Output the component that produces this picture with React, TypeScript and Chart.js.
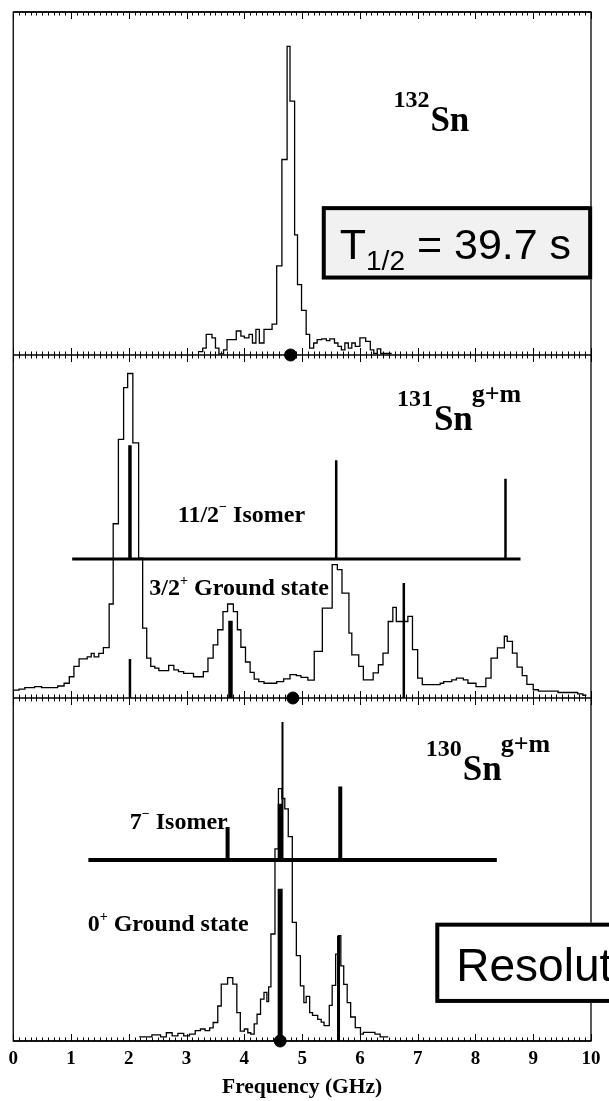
import React, { useEffect, useRef } from 'react';
import { Chart, registerables } from 'chart.js';

Chart.register(...registerables);

// ---------------- x axis ----------------
const xTickValues = [0, 1, 2, 3, 4, 5, 6, 7, 8, 9, 10];
const xTickLabels = ['0', '1', '2', '3', '4', '5', '6', '7', '8', '9', '10'];
const xAxisTitle = 'Frequency (GHz)';

// ---------------- Panel 1 : 132Sn (bin start edges + final edge, counts) ----------------
const sn132Edges = [3.20, 3.28, 3.34, 3.44, 3.50, 3.56, 3.64, 3.70, 3.78, 3.86, 3.94, 4.00, 4.08, 4.14, 4.20, 4.26, 4.34, 4.48, 4.56, 4.65, 4.74, 4.79, 4.87, 4.92, 4.99, 5.07, 5.13, 5.20, 5.26, 5.34, 5.42, 5.48, 5.56, 5.62, 5.68, 5.74, 5.80, 5.86, 5.92, 6.00, 6.10, 6.18, 6.24, 6.30, 6.36, 6.46, 6.55];
const sn132Counts = [1.0, 2.0, 6.0, 5.0, 2.0, 0.3, 1.5, 4.5, 4.5, 7.0, 5.5, 5.0, 6.0, 3.5, 7.5, 3.5, 7.5, 9.0, 26, 57, 90, 74, 35, 20.5, 13, 6, 2, 3.5, 4.5, 4.7, 4.2, 4.7, 3.5, 2.5, 1.5, 3.5, 2, 3.5, 2.5, 5, 4, 1.5, 0.5, 1.8, 0.5, 0.5];

// ---------------- Panel 2 : 131Sn g+m ----------------
const sn131Edges = [0.00, 0.10, 0.20, 0.37, 0.49, 0.77, 0.88, 0.97, 1.05, 1.14, 1.28, 1.35, 1.40, 1.48, 1.56, 1.66, 1.73, 1.82, 1.91, 1.98, 2.07, 2.17, 2.24, 2.31, 2.38, 2.45, 2.52, 2.61, 2.69, 2.78, 2.86, 2.95, 3.03, 3.12, 3.29, 3.37, 3.46, 3.54, 3.63, 3.71, 3.81, 3.88, 3.94, 4.02, 4.10, 4.17, 4.25, 4.34, 4.56, 4.68, 4.79, 4.90, 4.98, 5.10, 5.21, 5.35, 5.52, 5.61, 5.69, 5.81, 5.86, 5.98, 6.06, 6.23, 6.32, 6.40, 6.49, 6.57, 6.63, 6.83, 6.91, 7.00, 7.08, 7.39, 7.45, 7.59, 7.67, 7.79, 7.87, 8.01, 8.18, 8.27, 8.38, 8.50, 8.55, 8.64, 8.72, 8.81, 8.89, 9.00, 9.09, 9.43, 9.77, 9.86, 9.92];
const sn131Counts = [2.3, 2.6, 3.0, 3.3, 3.0, 3.5, 4.3, 6.2, 9.2, 11.4, 12.0, 13.0, 12.0, 13.0, 14.7, 27.4, 50.8, 75.4, 90.5, 94.6, 74.4, 40.8, 20.4, 11.6, 9.2, 8.7, 8.0, 8.0, 9.5, 8.2, 7.7, 7.2, 7.2, 6.2, 7.7, 11.6, 15.5, 19.9, 25.2, 27.4, 25.2, 19.9, 14.8, 10.5, 7.5, 5.5, 4.8, 4.3, 4.8, 5.6, 6.8, 6.5, 6.0, 5.2, 13.6, 26.2, 38.9, 37.4, 30.6, 18.9, 12.6, 9.2, 5.3, 7.3, 9.7, 13.1, 22.3, 26.4, 22.3, 23.8, 14.1, 5.8, 3.9, 4.3, 4.8, 5.3, 5.8, 5.3, 4.3, 3.3, 5.8, 11.6, 14.6, 18.0, 16.5, 13.1, 9.0, 6.5, 4.0, 2.4, 2.0, 1.6, 1.2, 0.8];
const sn131IsomerLevel = 40.5;
const sn131IsomerSpan = [1.02, 8.78];
const sn131IsomerFreq = [2.02, 5.59, 8.52];
const sn131IsomerTop = [73.7, 69.3, 63.9];
const sn131GroundFreq = [2.02, 3.76, 6.76];
const sn131GroundTop = [11.4, 22.5, 33.5];

// ---------------- Panel 3 : 130Sn g+m ----------------
const sn130Edges = [2.18, 2.40, 2.55, 2.65, 2.75, 2.85, 2.95, 3.05, 3.15, 3.24, 3.32, 3.40, 3.46, 3.54, 3.60, 3.71, 3.80, 3.87, 3.93, 4.00, 4.06, 4.11, 4.17, 4.22, 4.28, 4.34, 4.39, 4.42, 4.46, 4.53, 4.59, 4.65, 4.70, 4.76, 4.83, 4.90, 4.97, 5.03, 5.07, 5.13, 5.18, 5.27, 5.33, 5.38, 5.47, 5.52, 5.58, 5.63, 5.67, 5.72, 5.78, 5.84, 5.92, 6.01, 6.06, 6.26, 6.35, 6.49];
const sn130Counts = [1.2, 1.8, 1.2, 2.4, 1.5, 2.2, 1.5, 2.0, 3.0, 3.5, 3.0, 3.8, 5.4, 10.2, 16.6, 18.5, 16.6, 8.3, 2.9, 3.5, 2.4, 2.0, 5.0, 7.8, 12.2, 14.2, 11.5, 15.8, 31.2, 56.0, 73.6, 70.7, 67.7, 59.6, 34.6, 24.9, 16.1, 11.2, 13.0, 8.3, 7.5, 6.3, 5.5, 4.5, 10.4, 16.2, 25.3, 30.7, 21.9, 16.5, 11.2, 7.0, 3.9, 2.0, 2.5, 2.0, 1.2];
const sn130IsomerLevel = 52.8;
const sn130IsomerSpan = [1.30, 8.37];
const sn130IsomerFreq = [3.71, 4.62, 4.66, 5.66];
const sn130IsomerTop = [62.4, 69.2, 93.0, 74.2];
const sn130GroundFreq = [4.62, 5.63];
const sn130GroundTop = [44.4, 30.7];

// centroid markers on each panel's axis
const centroidFreq = [4.80, 4.84, 4.62];

// ---------------- styles / layout (not data) ----------------
const panelBase = [200, 100, 0]; // vertical band of each panel on the shared y scale
const sn131IsomerWidth = [3.5, 2.5, 2.5];
const sn131GroundWidth = [2.5, 4.5, 2.5];
const sn130IsomerWidth = [4, 5, 2, 4];
const sn130GroundWidth = [5, 3];
const SERIF = '"Liberation Serif", "Times New Roman", serif';
const SANS = '"Liberation Sans", Arial, sans-serif';

function histPoints(edges: number[], counts: number[], base: number) {
  const pts = counts.map((c, i) => ({ x: edges[i], y: base + c }));
  pts.push({ x: edges[edges.length - 1], y: base + counts[counts.length - 1] });
  return pts;
}

function histDataset(edges: number[], counts: number[], base: number) {
  return {
    type: 'line' as const,
    data: histPoints(edges, counts, base),
    stepped: 'before' as const,
    borderColor: '#000',
    borderWidth: 1.3,
    pointRadius: 0,
    fill: false,
    order: 3,
  };
}

function segDataset(x1: number, y1: number, x2: number, y2: number, w: number) {
  return {
    type: 'line' as const,
    data: [{ x: x1, y: y1 }, { x: x2, y: y2 }],
    borderColor: '#000',
    borderWidth: w,
    borderCapStyle: 'butt' as const,
    pointRadius: 0,
    fill: false,
    order: 2,
  };
}

function stickDatasets(freq: number[], top: number[], bottom: number, base: number, widths: number[]) {
  return freq.map((f, i) => segDataset(f, base + bottom, f, base + top[i], widths[i]));
}

function drawRuns(ctx: CanvasRenderingContext2D, x: number, y: number, runs: [string, string, number][]) {
  let cx = x;
  for (const [text, font, dy] of runs) {
    ctx.font = font;
    ctx.fillText(text, cx, y + dy);
    cx += ctx.measureText(text).width;
  }
  return cx;
}

const framePlugin = {
  id: 'panelFrame',
  beforeDatasetsDraw(chart: any) {
    const { ctx, chartArea: a, scales } = chart;
    const xs = scales.x;
    const ys = scales.y;
    ctx.save();
    ctx.strokeStyle = '#000';
    ctx.lineWidth = 1.3;
    ctx.strokeRect(a.left, a.top, a.right - a.left, a.bottom - a.top);
    [300, 200, 100, 0].forEach((lv) => {
      const y = ys.getPixelForValue(lv);
      ctx.lineWidth = 1.3;
      ctx.beginPath();
      ctx.moveTo(a.left, y);
      ctx.lineTo(a.right, y);
      ctx.stroke();
      ctx.lineWidth = 1;
      for (let i = 0; i <= 100; i++) {
        const x = Math.round(xs.getPixelForValue(i / 10)) + 0.5;
        const len = i % 10 === 0 ? 7 : 3.5;
        const up = lv < 300 ? len : 0;
        const down = lv > 0 ? len : 0;
        ctx.beginPath();
        ctx.moveTo(x, y - up);
        ctx.lineTo(x, y + down);
        ctx.stroke();
      }
    });
    ctx.restore();
  },
};

const annotationPlugin = {
  id: 'annotations',
  afterDatasetsDraw(chart: any) {
    const { ctx, scales } = chart;
    const X = (f: number) => scales.x.getPixelForValue(f);
    const Y = (u: number) => scales.y.getPixelForValue(u);
    ctx.save();
    ctx.fillStyle = '#000';
    ctx.textBaseline = 'alphabetic';
    ctx.textAlign = 'left';

    const isotope = (mass: string, sup: string, x: number, yBase: number) => {
      ctx.font = `bold 24px ${SERIF}`;
      ctx.fillText(mass, x, yBase - 24);
      const snX = x + ctx.measureText(mass).width + 1;
      ctx.font = `bold 35px ${SERIF}`;
      ctx.fillText('Sn', snX, yBase);
      const supX = snX + ctx.measureText('Sn').width - 1;
      if (sup) {
        ctx.font = `bold 26px ${SERIF}`;
        ctx.fillText(sup, supX, yBase - 28);
      }
    };
    isotope('132', '', X(6.58), Y(265.2));
    isotope('131', 'g+m', X(6.64), Y(178.2));
    isotope('130', 'g+m', X(7.14), Y(75.95));

    const big = `bold 24px ${SERIF}`;
    const small = `bold 14px ${SERIF}`;
    drawRuns(ctx, X(2.847), Y(151.3), [['11/2', big, 0], ['\u2212', small, -11], [' Isomer', big, 0]]);
    drawRuns(ctx, X(2.356), Y(130.0), [['3/2', big, 0], ['+', small, -10], [' Ground state', big, 0]]);
    drawRuns(ctx, X(2.017), Y(61.9), [['7', big, 0], ['\u2212', small, -11], [' Isomer', big, 0]]);
    drawRuns(ctx, X(1.288), Y(32.1), [['0', big, 0], ['+', small, -10], [' Ground state', big, 0]]);

    // half-life box
    let bx1 = X(5.34), by1 = Y(243.4), bx2 = X(10.02), by2 = Y(222.0);
    ctx.fillStyle = '#f1f1f1';
    ctx.fillRect(bx1, by1, bx2 - bx1, by2 - by1);
    ctx.strokeStyle = '#000';
    ctx.lineWidth = 4;
    ctx.strokeRect(bx1 + 2, by1 + 2, bx2 - bx1 - 4, by2 - by1 - 4);
    ctx.fillStyle = '#000';
    drawRuns(ctx, bx1 + 18, by1 + 53, [['T', `43px ${SANS}`, 0], ['1/2', `28px ${SANS}`, 11], [' = 39.7 s', `43px ${SANS}`, 0]]);

    // resolution box (runs past the right edge)
    bx1 = X(7.305); by1 = Y(34.5); bx2 = X(12); by2 = Y(11.1);
    ctx.fillStyle = '#fff';
    ctx.fillRect(bx1, by1, bx2 - bx1, by2 - by1);
    ctx.strokeRect(bx1 + 2, by1 + 2, bx2 - bx1 - 4, by2 - by1 - 4);
    ctx.fillStyle = '#000';
    drawRuns(ctx, bx1 + 21, by1 + 58, [['Resolution', `46px ${SANS}`, 0]]);
    ctx.restore();
  },
};

export default function App() {
  const ref = useRef<HTMLCanvasElement>(null);
  useEffect(() => {
    const datasets: any[] = [
      {
        type: 'scatter',
        data: centroidFreq.map((f, i) => ({ x: f, y: panelBase[i] })),
        pointRadius: 6,
        pointBackgroundColor: '#000',
        pointBorderColor: '#000',
        showLine: false,
        clip: false,
        order: 0,
      },
      histDataset(sn132Edges, sn132Counts, panelBase[0]),
      histDataset(sn131Edges, sn131Counts, panelBase[1]),
      histDataset(sn130Edges, sn130Counts, panelBase[2]),
      segDataset(sn131IsomerSpan[0], panelBase[1] + sn131IsomerLevel, sn131IsomerSpan[1], panelBase[1] + sn131IsomerLevel, 3),
      ...stickDatasets(sn131IsomerFreq, sn131IsomerTop, sn131IsomerLevel, panelBase[1], sn131IsomerWidth),
      ...stickDatasets(sn131GroundFreq, sn131GroundTop, 0, panelBase[1], sn131GroundWidth),
      segDataset(sn130IsomerSpan[0], panelBase[2] + sn130IsomerLevel, sn130IsomerSpan[1], panelBase[2] + sn130IsomerLevel, 4),
      ...stickDatasets(sn130IsomerFreq, sn130IsomerTop, sn130IsomerLevel, panelBase[2], sn130IsomerWidth),
      ...stickDatasets(sn130GroundFreq, sn130GroundTop, 0, panelBase[2], sn130GroundWidth),
    ];
    const chart = new Chart(ref.current as HTMLCanvasElement, {
      type: 'line',
      data: { datasets },
      options: {
        animation: false,
        responsive: false,
        maintainAspectRatio: false,
        devicePixelRatio: 1,
        events: [],
        layout: { padding: { left: 8, right: 11, top: 12, bottom: 0 } },
        elements: { point: { radius: 0 }, line: { tension: 0 } },
        plugins: { legend: { display: false }, tooltip: { enabled: false }, title: { display: false } },
        scales: {
          x: {
            type: 'linear',
            min: 0,
            max: 10,
            afterBuildTicks: (scale: any) => {
              scale.ticks = xTickValues.map((v) => ({ value: v }));
            },
            grid: { display: false, drawTicks: false },
            border: { display: false },
            ticks: {
              autoSkip: false,
              maxRotation: 0,
              padding: 8.5,
              color: '#000',
              font: { family: SERIF, size: 19, weight: 'bold', lineHeight: 1 },
              callback: (_v: any, i: number) => xTickLabels[i],
            },
            title: {
              display: true,
              text: xAxisTitle,
              color: '#000',
              font: { family: SERIF, size: 21.5, weight: 'bold', lineHeight: 1 },
              padding: { top: 0, bottom: 2.5 },
            },
          },
          y: { type: 'linear', min: 0, max: 300, display: false },
        },
      } as any,
      plugins: [framePlugin, annotationPlugin],
    });
    return () => chart.destroy();
  }, []);
  return (
    <div style={{ position: 'absolute', left: 0, top: 0, width: 609, height: 1101, background: '#fff', overflow: 'hidden' }}>
      <canvas ref={ref} width={609} height={1101} style={{ display: 'block', width: 609, height: 1101 }} />
    </div>
  );
}
